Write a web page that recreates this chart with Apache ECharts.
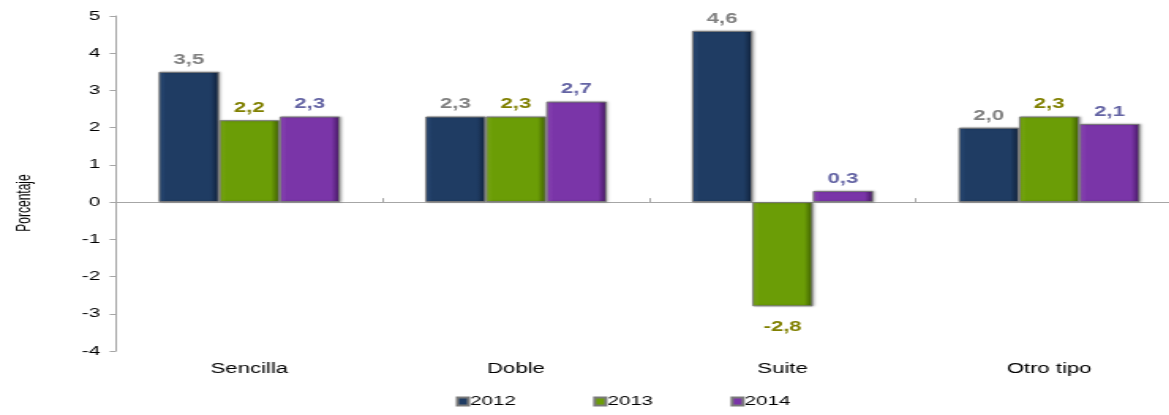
<!DOCTYPE html>
<html>
<head>
<meta charset="utf-8">
<script src="https://cdn.jsdelivr.net/npm/echarts@6/dist/echarts.min.js"></script>
<style>
  html, body { margin: 0; padding: 0; background: #fff; overflow: hidden; }
  /* el original está estirado en horizontal: se dibuja estrecho y se escala */
  #chart { width: 760px; height: 415px; transform: scaleX(1.58); transform-origin: 0 0; }
</style>
</head>
<body>
<div id="chart"></div>
<script>
// categorías y valores (porcentaje)
const categories = ["Sencilla", "Doble", "Suite", "Otro tipo"];
const years = ["2012", "2013", "2014"];
const values2012 = [3.5, 2.3, 4.6, 2.0];
const values2013 = [2.2, 2.3, -2.8, 2.3];
const values2014 = [2.3, 2.7, 0.3, 2.1];
const yTicks = [-4, -3, -2, -1, 0, 1, 2, 3, 4, 5];

const FONT = "Liberation Sans, Arial, sans-serif";

const STYLE = [
  { light: "#2f5282", base: "#1f3c63", dark: "#0f2039", label: "#808080" },
  { light: "#86b81c", base: "#6b9d06", dark: "#3d5c02", label: "#808000" },
  { light: "#9a4fc8", base: "#7a35a8", dark: "#42165e", label: "#6464a4" }
];

function fmt(v) {
  return v.toFixed(1).replace(".", ",");
}

function barSeries(name, data, st) {
  return {
    name: name,
    type: "bar",
    xAxisIndex: 0,
    data: data.map(v => ({
      value: v,
      label: { position: v < 0 ? "bottom" : "top", distance: v < 0 ? 14 : 5 }
    })),
    barGap: "0%",
    barCategoryGap: "32%",
    itemStyle: {
      color: new echarts.graphic.LinearGradient(0, 0, 1, 0, [
        { offset: 0, color: st.light },
        { offset: 0.12, color: st.base },
        { offset: 0.86, color: st.base },
        { offset: 1, color: st.dark }
      ]),
      borderColor: "#7a7a7a",
      borderWidth: 1,
      shadowColor: "rgba(0,0,0,0.25)",
      shadowBlur: 2,
      shadowOffsetX: 1
    },
    label: {
      show: true,
      color: st.label,
      fontFamily: FONT,
      fontSize: 14,
      fontWeight: "bold",
      formatter: p => fmt(p.value)
    }
  };
}

const chart = echarts.init(document.getElementById("chart"));
chart.setOption({
  animation: false,
  backgroundColor: "#fff",
  grid: { left: 73.4, top: 16, width: 675, height: 335 },
  legend: {
    bottom: 2,
    left: 283.5,
    itemWidth: 7,
    itemHeight: 8,
    itemGap: 49,
    icon: "rect",
    textStyle: { fontFamily: FONT, fontSize: 13, color: "#000", padding: [0, 0, 0, -4] },
    data: years
  },
  graphic: [{
    type: "text",
    x: 15.5,
    y: 203,
    rotation: Math.PI / 2,
    style: {
      text: "Porcentaje",
      fontFamily: FONT,
      fontSize: 12,
      fill: "#000",
      align: "center",
      verticalAlign: "middle"
    }
  }],
  xAxis: [
    {
      type: "category",
      data: categories,
      position: "bottom",
      axisLine: { show: false, onZero: false },
      axisTick: { show: false },
      axisLabel: { color: "#000", fontFamily: FONT, fontSize: 14, margin: 11 }
    },
    {
      type: "category",
      data: categories,
      axisLine: { show: true, onZero: true, lineStyle: { color: "#a6a6a6", width: 1 } },
      axisTick: { show: true, length: 4, lineStyle: { color: "#a6a6a6" } },
      axisLabel: { show: false }
    }
  ],
  yAxis: {
    type: "value",
    min: -4,
    max: 5,
    interval: 1,
    axisLine: { show: true, lineStyle: { color: "#a6a6a6" } },
    axisTick: { show: true, length: 4, lineStyle: { color: "#a6a6a6" } },
    splitLine: { show: false },
    axisLabel: {
      color: "#000",
      fontFamily: FONT,
      fontSize: 13,
      margin: 10,
      formatter: v => (yTicks.includes(v) ? String(v) : "")
    }
  },
  series: [
    barSeries(years[0], values2012, STYLE[0]),
    barSeries(years[1], values2013, STYLE[1]),
    barSeries(years[2], values2014, STYLE[2])
  ]
});
</script>
</body>
</html>
